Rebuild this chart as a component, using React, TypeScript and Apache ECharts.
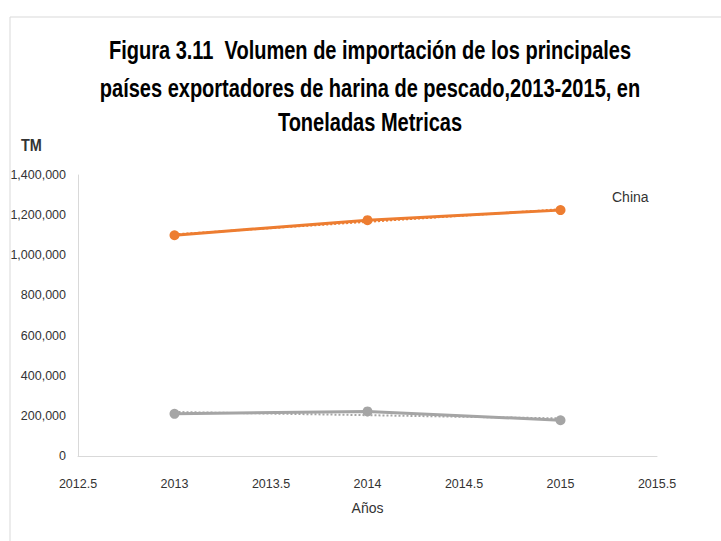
import React, { useEffect, useRef } from "react";
import * as echarts from "echarts";

const years = [2013, 2014, 2015];
const chinaValues = [1100000, 1175000, 1225000];
const otherValues = [210000, 222000, 178000];
const titleLines = [
  "Figura 3.11  Volumen de importación de los principales",
  "países exportadores de harina de pescado,2013-2015, en",
  "Toneladas Metricas",
];
const seriesLabel = "China";
const yAxisName = "TM";
const xAxisName = "Años";

function trend(xs: number[], ys: number[]) {
  const n = xs.length;
  const mx = xs.reduce((a, b) => a + b, 0) / n;
  const my = ys.reduce((a, b) => a + b, 0) / n;
  let num = 0, den = 0;
  xs.forEach((x, i) => { num += (x - mx) * (ys[i] - my); den += (x - mx) ** 2; });
  const b = num / den;
  const a = my - b * mx;
  return xs.map((x) => [x, a + b * x]);
}

const FONT = "'Liberation Sans', Arial, sans-serif";
const TITLE_Y = [50, 88, 122];

export default function App() {
  const ref = useRef<HTMLDivElement>(null);
  useEffect(() => {
    document.body.style.margin = "0";
    const chart = echarts.init(ref.current!, null, { renderer: "svg" });
    const mk = (vals: number[]) => years.map((y, i) => [y, vals[i]]);
    chart.setOption({
      animation: false,
      backgroundColor: "#fff",
      grid: { left: 78, right: 64, top: 175, bottom: 85, containLabel: false },
      xAxis: {
        type: "value",
        min: 2012.5,
        max: 2015.5,
        interval: 0.5,
        name: xAxisName,
        nameLocation: "middle",
        nameGap: 45,
        nameTextStyle: { fontFamily: FONT, fontSize: 14, color: "#333" },
        axisLine: { show: true, lineStyle: { color: "#D9D9D9", width: 1 } },
        axisTick: { show: false },
        splitLine: { show: false },
        axisLabel: { fontFamily: FONT, fontSize: 12.5, color: "#333", margin: 21, formatter: (v: number) => String(v) },
      },
      yAxis: {
        type: "value",
        min: 0,
        max: 1400000,
        interval: 200000,
        axisLine: { show: true, lineStyle: { color: "#D9D9D9", width: 1 } },
        axisTick: { show: false },
        splitLine: { show: false },
        axisLabel: {
          fontFamily: FONT, fontSize: 12.5, color: "#333", margin: 12,
          formatter: (v: number) => v.toLocaleString("en-US"),
        },
      },
      graphic: [
        { type: "rect", shape: { x: 10, y: 17, width: 800, height: 600 }, style: { fill: "none", stroke: "#D9D9D9", lineWidth: 1 }, z: -1 },
        ...titleLines.map((t, i) => ({
          type: "text", x: 370, y: TITLE_Y[i], scaleX: 0.77,
          style: { text: t, x: 0, y: 0, textAlign: "center", textVerticalAlign: "middle", font: `bold 26px ${FONT}`, fill: "#000" },
        })),
        { type: "text", x: 21, y: 145, scaleX: 0.85, style: { text: yAxisName, textVerticalAlign: "middle", font: `bold 17px ${FONT}`, fill: "#333" } },
        { type: "text", left: 612, top: 190, style: { text: seriesLabel, font: `14px ${FONT}`, fill: "#333" } },
      ],
      series: [
        {
          type: "line", data: mk(chinaValues), symbol: "circle", symbolSize: 10,
          lineStyle: { color: "#ED7D31", width: 3 }, itemStyle: { color: "#ED7D31" }, z: 3,
        },
        {
          type: "line", data: trend(years, chinaValues), symbol: "none",
          lineStyle: { color: "#ED7D31", width: 2, type: "dotted" }, z: 2,
        },
        {
          type: "line", data: mk(otherValues), symbol: "circle", symbolSize: 10,
          lineStyle: { color: "#A5A5A5", width: 3 }, itemStyle: { color: "#A5A5A5" }, z: 3,
        },
        {
          type: "line", data: trend(years, otherValues), symbol: "none",
          lineStyle: { color: "#A5A5A5", width: 2, type: "dotted" }, z: 2,
        },
      ],
    });
    return () => chart.dispose();
  }, []);
  return <div ref={ref} style={{ width: 721, height: 541 }} />;
}
